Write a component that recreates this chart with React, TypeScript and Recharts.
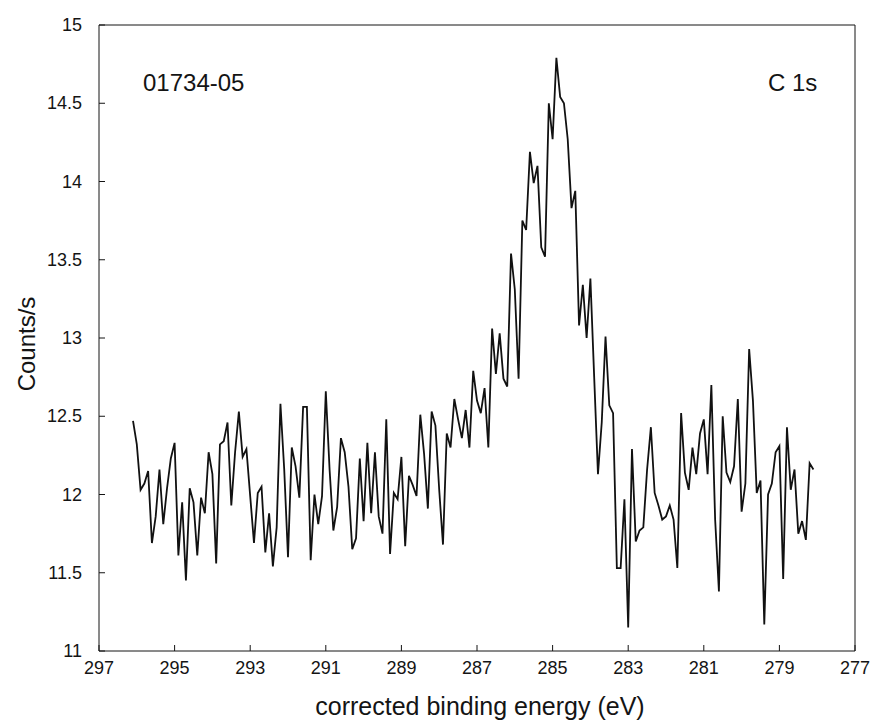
import { LineChart, Line, XAxis, YAxis, ReferenceLine } from "recharts";

// C 1s spectrum (counts/s), one point per 0.1 eV from 296.1 down to 278.1
const counts = [
  12.47, 12.32, 12.03, 12.07, 12.15, 11.69, 11.86, 12.16, 11.81, 12.04,
  12.23, 12.33, 11.61, 11.95, 11.45, 12.04, 11.95, 11.61, 11.98, 11.88,
  12.27, 12.13, 11.56, 12.32, 12.34, 12.46, 11.93, 12.27, 12.53, 12.24,
  12.29, 11.99, 11.69, 12.01, 12.05, 11.63, 11.88, 11.54, 11.79, 12.58,
  12.16, 11.6, 12.3, 12.18, 11.98, 12.56, 12.56, 11.58, 12.0, 11.81,
  11.99, 12.66, 12.16, 11.77, 11.92, 12.36, 12.27, 12.05, 11.65, 11.72,
  12.23,
  11.83, 12.33, 11.88, 12.27, 11.86, 11.75, 12.48, 11.62, 12.01, 11.97,
  12.24, 11.67, 12.12, 12.06, 11.99, 12.51, 12.26, 11.91, 12.53, 12.44,
  12.03, 11.68, 12.39, 12.3, 12.61, 12.48, 12.36, 12.54, 12.3, 12.79,
  12.6, 12.52, 12.68, 12.3, 13.06, 12.77, 13.03, 12.74, 12.69, 13.54,
  13.31, 12.74, 13.75, 13.69, 14.19, 13.99, 14.1, 13.58, 13.52, 14.5,
  14.27, 14.79,
  14.54, 14.5, 14.27, 13.83, 13.94, 13.08, 13.34, 13.0, 13.38, 12.75,
  12.13, 12.46, 13.01, 12.57, 12.52, 11.53, 11.53, 11.97, 11.15, 12.29,
  11.7, 11.77, 11.79,
  12.16, 12.43, 12.01, 11.93, 11.84, 11.86, 11.93, 11.84, 11.53, 12.52,
  12.14, 12.03, 12.3, 12.13, 12.39, 12.48, 12.13, 12.7, 11.84, 11.38,
  12.5, 12.14, 12.08, 12.18,
  12.61, 11.89, 12.07, 12.93, 12.6, 12.01, 12.09, 11.17, 12.0, 12.07,
  12.27, 12.31, 11.46, 12.43, 12.03, 12.16, 11.75, 11.83, 11.71, 12.2,
  12.16,
];
const startEnergy = 296.1;
const stepEnergy = 0.1;

const xTicks = [297, 295, 293, 291, 289, 287, 285, 283, 281, 279, 277];
const yTicks = [11, 11.5, 12, 12.5, 13, 13.5, 14, 14.5, 15];

const sampleLabel = "01734-05";
const regionLabel = "C 1s";

const font = "'Liberation Sans', Arial, sans-serif";
const ink = "#141414";

const data = counts.map((c, i) => ({
  energy: +(startEnergy - i * stepEnergy).toFixed(1),
  counts: c,
}));

const XTick = (props: any) => {
  const { x, y, payload } = props;
  return (
    <g>
      <line x1={x} y1={y} x2={x} y2={y - 6} stroke={ink} strokeWidth={1} />
      <text x={x} y={y + 23} textAnchor="middle" fontSize={18} fontFamily={font} fill={ink}>
        {payload.value}
      </text>
    </g>
  );
};

const YTick = (props: any) => {
  const { x, y, payload } = props;
  return (
    <g>
      <line x1={x} y1={y} x2={x + 6} y2={y} stroke={ink} strokeWidth={1} />
      <text x={x - 17} y={y + 6} textAnchor="end" fontSize={18} fontFamily={font} fill={ink}>
        {payload.value}
      </text>
    </g>
  );
};

export default function App() {
  return (
    <div style={{ position: "absolute", left: 0, top: 0, width: 871, height: 720, background: "#fff" }}>
      <LineChart width={871} height={720} data={data} margin={{ top: 25, right: 16, left: 0, bottom: 0 }}>
        <XAxis
          dataKey="energy"
          type="number"
          domain={[277, 297]}
          reversed
          ticks={xTicks}
          tick={<XTick />}
          tickLine={false}
          tickSize={0}
          tickMargin={0}
          height={69}
          interval={0}
          axisLine={{ stroke: ink }}
        />
        <YAxis
          type="number"
          domain={[11, 15]}
          ticks={yTicks}
          tick={<YTick />}
          tickLine={false}
          tickSize={0}
          tickMargin={0}
          width={99}
          interval={0}
          axisLine={{ stroke: ink }}
        />
        <ReferenceLine y={15} stroke={ink} />
        <ReferenceLine x={277} stroke={ink} />
        <Line
          type="linear"
          dataKey="counts"
          stroke="#111"
          strokeWidth={1.8}
          dot={false}
          isAnimationActive={false}
        />
        <text x={143} y={91} fontSize={24} fontFamily={font} fill={ink}>
          {sampleLabel}
        </text>
        <text x={768} y={91} fontSize={24} fontFamily={font} fill={ink}>
          {regionLabel}
        </text>
        <text
          transform="translate(35,344) rotate(-90)"
          textAnchor="middle"
          fontSize={24}
          fontFamily={font}
          fill={ink}
        >
          Counts/s
        </text>
        <text x={480} y={715} textAnchor="middle" fontSize={25} fontFamily={font} fill={ink}>
          corrected binding energy (eV)
        </text>
      </LineChart>
    </div>
  );
}
